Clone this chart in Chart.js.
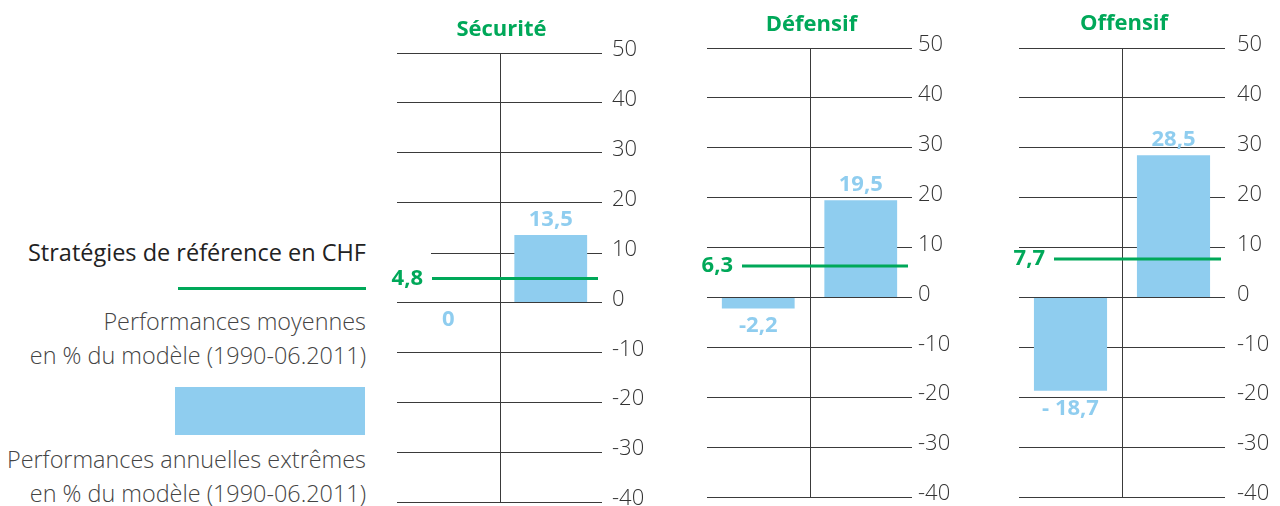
<!DOCTYPE html>
<html lang="fr">
<head>
<meta charset="utf-8">
<title>Stratégies de référence en CHF</title>
<script src="https://cdn.jsdelivr.net/npm/chart.js@4/dist/chart.umd.min.js"></script>
<style>
  html, body { margin: 0; padding: 0; background: #fff; overflow: hidden; }
  body { width: 1280px; height: 506px; position: relative; font-family: "Open Sans", sans-serif; color: #333; }
  canvas { position: absolute; top: 0; }
  .title { position: absolute; transform: translate(-50%, -50%); font-weight: 700; font-size: 22px; color: #00a859; white-space: nowrap; }
  .legend-text { position: absolute; right: 914px; text-align: right; white-space: nowrap; }
  .legend-head { top: 236px; line-height: 32px; font-size: 23.5px; color: #222; }
  .legend-sub { line-height: 34px; font-size: 23.4px; color: #444; font-weight: 300; }
  .legend-line { position: absolute; left: 178px; top: 287px; width: 188px; height: 3px; background: #00a859; }
  .legend-box { position: absolute; left: 175px; top: 387px; width: 190px; height: 48px; background: #8fcdef; }
</style>
</head>
<body>

<div class="legend-text legend-head">Stratégies de référence en CHF</div>
<div class="legend-line"></div>
<div class="legend-text legend-sub" style="top:304px">Performances moyennes<br>en % du modèle (1990-06.2011)</div>
<div class="legend-box"></div>
<div class="legend-text legend-sub" style="top:442px">Performances annuelles extrêmes<br>en % du modèle (1990-06.2011)</div>

<script>
// ---------------------------------------------------------------
// Data (one entry per strategy)
// ---------------------------------------------------------------
const panelTitles = ["Sécurité", "Défensif", "Offensif"];
const barCategories = ["min", "max"];
const minValues = [0, -2.2, -18.7];
const maxValues = [13.5, 19.5, 28.5];
const avgValues = [4.8, 6.3, 7.7];
const minLabels = ["0", "-2,2", "- 18,7"];
const maxLabels = ["13,5", "19,5", "28,5"];
const avgLabels = ["4,8", "6,3", "7,7"];
const yMin = -40;
const yMax = 50;
const yStep = 10;

// Layout of each panel on the page (pixels)
const gridLeft = [397, 707, 1019];
const gridRight = [602, 912, 1225];
const gridTop = [53, 48, 48];
const gridBottom = [502, 497, 497];
const tickPad = [10, 6, 12];
const titleY = [27, 22, 21];

const GREEN = "#00a859";
const BLUE = "#8fcdef";
const GRID = "#3a3a3a";
const CANVAS_H = 530;
const LEFT_PAD = 16;
const AXIS_W = 50;

/**
 * Draws the centre divider, the average line and the bar value labels.
 */
const panelDecor = {
  id: "panelDecor",
  beforeDatasetsDraw(chart, args, opts) {
    const { ctx, chartArea, scales: { x, y } } = chart;
    const mid = Math.round((x.getPixelForValue(0) + x.getPixelForValue(1)) / 2) + 0.5;
    ctx.save();
    ctx.strokeStyle = GRID;
    ctx.lineWidth = 1;
    ctx.beginPath();
    ctx.moveTo(mid, chartArea.top);
    ctx.lineTo(mid, chartArea.bottom);
    // the grid line that leaves room for the average label
    if (opts.shortTick != null) {
      const gy = Math.round(y.getPixelForValue(opts.shortTick)) + 0.5;
      ctx.moveTo(chartArea.left + 34, gy);
      ctx.lineTo(chartArea.right, gy);
    }
    ctx.stroke();
    ctx.restore();
  },
  afterDatasetsDraw(chart, args, opts) {
    const { ctx, chartArea, scales: { y } } = chart;
    const meta = chart.getDatasetMeta(0);
    ctx.save();
    ctx.font = "700 22px 'Open Sans', sans-serif";

    // value labels above / below the bars
    ctx.fillStyle = BLUE;
    ctx.textAlign = "center";
    ctx.textBaseline = "alphabetic";
    const values = chart.data.datasets[0].data;
    meta.data.forEach((el, i) => {
      const label = opts.barLabels[i];
      if (values[i] > 0) {
        ctx.fillText(label, el.x, el.y - 9);
      } else {
        ctx.fillText(label, el.x, el.y + 24);
      }
    });

    // average line with its label
    const ay = y.getPixelForValue(opts.avg);
    const x0 = chartArea.left + 35;
    const x1 = chartArea.right - 4;
    ctx.strokeStyle = GREEN;
    ctx.lineWidth = 3;
    ctx.beginPath();
    ctx.moveTo(x0, ay);
    ctx.lineTo(x1, ay);
    ctx.stroke();

    ctx.fillStyle = GREEN;
    ctx.textAlign = "right";
    ctx.textBaseline = "middle";
    ctx.fillText(opts.avgLabel, x0 - 9, ay);
    ctx.restore();
  }
};

function buildPanel(i) {
  const width = LEFT_PAD + (gridRight[i] - gridLeft[i]) + AXIS_W;
  const canvas = document.createElement("canvas");
  canvas.width = width;
  canvas.height = CANVAS_H;
  canvas.style.left = (gridLeft[i] - LEFT_PAD) + "px";
  document.body.appendChild(canvas);

  const title = document.createElement("div");
  title.className = "title";
  title.textContent = panelTitles[i];
  title.style.left = ((gridLeft[i] + gridRight[i]) / 2 + 2) + "px";
  title.style.top = titleY[i] + "px";
  document.body.appendChild(title);

  const shortTick = i === 0 ? 10 : null;

  new Chart(canvas, {
    type: "bar",
    data: {
      labels: barCategories,
      datasets: [{
        data: [minValues[i], maxValues[i]],
        backgroundColor: BLUE,
        borderWidth: 0,
        barPercentage: 0.71,
        categoryPercentage: 1
      }]
    },
    options: {
      responsive: false,
      animation: false,
      events: [],
      layout: {
        padding: { left: LEFT_PAD, right: 0, top: gridTop[i], bottom: CANVAS_H - gridBottom[i] }
      },
      scales: {
        x: { display: false },
        y: {
          position: "right",
          min: yMin,
          max: yMax,
          afterFit: scale => { scale.width = AXIS_W; },
          border: { display: false },
          grid: {
            drawTicks: false,
            lineWidth: 1,
            color: ctx => (ctx.tick && ctx.tick.value === shortTick) ? "rgba(0,0,0,0)" : GRID
          },
          ticks: {
            stepSize: yStep,
            padding: tickPad[i],
            labelOffset: -3,
            color: "#333",
            font: { family: "'Open Sans', sans-serif", size: 22, weight: 300 }
          }
        }
      },
      plugins: {
        legend: { display: false },
        tooltip: { enabled: false },
        panelDecor: {
          avg: avgValues[i],
          avgLabel: avgLabels[i],
          barLabels: [minLabels[i], maxLabels[i]],
          shortTick
        }
      }
    },
    plugins: [panelDecor]
  });
}

panelTitles.forEach((t, i) => buildPanel(i));
</script>
</body>
</html>
